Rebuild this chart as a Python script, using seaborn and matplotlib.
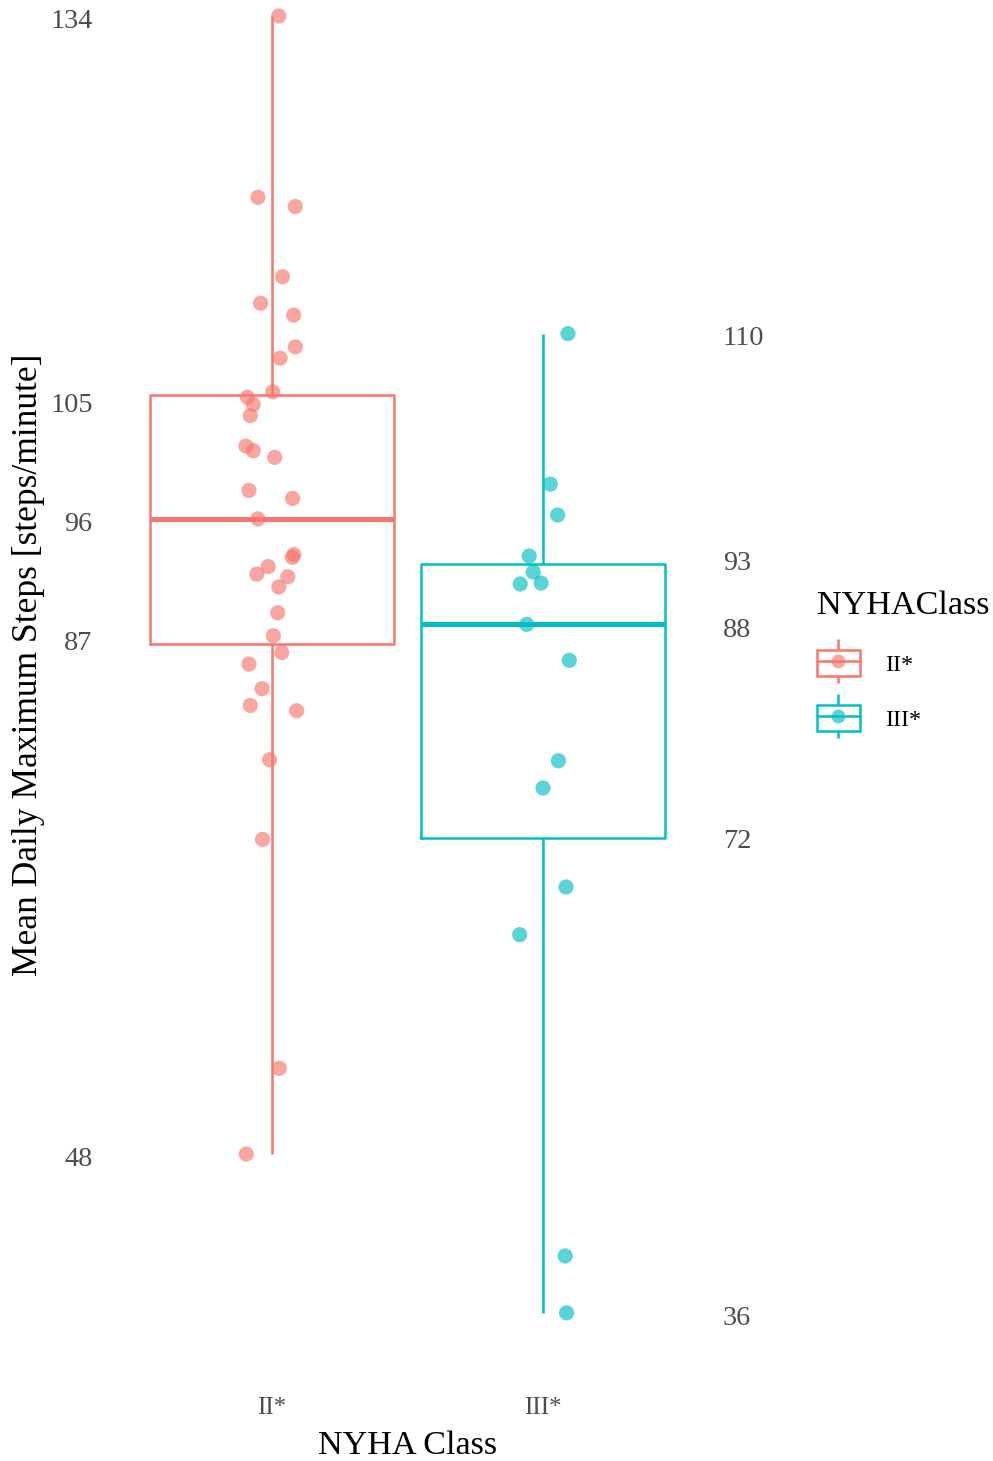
import matplotlib
matplotlib.use("Agg")
import matplotlib.pyplot as plt
import matplotlib.colors as mcolors
import numpy as np
import pandas as pd
import seaborn as sns
from matplotlib.lines import Line2D
from matplotlib.patches import Rectangle

classes = ["II*", "III*"]
colors = ["#F8766D", "#00BFC4"]

# mean daily maximum steps per patient
steps_ii = [134.0, 120.3, 119.6, 114.3, 112.3, 111.4, 109.0, 108.15, 105.6, 105.2,
            104.65, 103.8, 101.5, 101.15, 100.65, 98.15, 97.55, 96.0, 93.3, 93.1,
            92.4, 91.83, 91.63, 90.85, 88.9, 87.17, 85.9, 85.03, 83.17, 81.9,
            81.5, 77.8, 71.78, 54.48, 48.0]
# horizontal jitter of each point (category units)
jitter_ii = [0.025, -0.052, 0.086, 0.039, -0.042, 0.080, 0.086, 0.030, 0.003, -0.091,
             -0.069, -0.080, -0.096, -0.069, 0.010, -0.085, 0.076, -0.052, 0.081, 0.075,
             -0.014, -0.056, 0.058, 0.025, 0.021, 0.005, 0.036, -0.085, -0.037, -0.080,
             0.091, -0.009, -0.035, 0.027, -0.095]

steps_iii = [110.0, 98.63, 96.29, 93.19, 91.98, 91.08, 91.15, 88.03, 85.31, 77.72,
             75.66, 68.18, 64.58, 40.3, 36.0]
jitter_iii = [0.092, 0.027, 0.054, -0.051, -0.036, -0.084, -0.007, -0.060, 0.097, 0.057,
              0.000, 0.085, -0.086, 0.082, 0.087]

df = pd.DataFrame({
    "NYHAClass": ["II*"] * len(steps_ii) + ["III*"] * len(steps_iii),
    "steps": steps_ii + steps_iii,
    "jitter": jitter_ii + jitter_iii,
})
df["pos"] = df["NYHAClass"].map({c: i for i, c in enumerate(classes)}) + df["jitter"]

sns.set_style("white")
plt.rcParams["font.family"] = ["Liberation Serif", "DejaVu Serif"]

fig = plt.figure(figsize=(9.93, 14.61), dpi=100)
ax = fig.add_axes([109.4 / 993, 83.3 / 1461, 596.2 / 993, 1426.5 / 1461])

sns.boxplot(data=df, x="NYHAClass", y="steps", hue="NYHAClass", order=classes,
            hue_order=classes, palette=colors, fill=False, width=0.9, whis=(0, 100),
            showcaps=False, showfliers=False, linewidth=1.8,
            medianprops={"linewidth": 3.6}, legend=False, ax=ax)
sns.scatterplot(x=df["pos"], y=df["steps"], hue=df["NYHAClass"],
                palette=dict(zip(classes, colors)), s=120, alpha=0.65,
                edgecolor="none", legend=False, ax=ax, zorder=3)

lo, hi = df["steps"].min(), df["steps"].max()
pad = 0.05 * (hi - lo)
ax.set_xlim(-0.6, 1.6)
ax.set_ylim(lo - pad, hi + pad)

# five-number labels beside each box
for i, c in enumerate(classes):
    vals = df.loc[df["NYHAClass"] == c, "steps"].to_numpy()
    stats = np.percentile(vals, [0, 25, 50, 75, 100])
    for v in stats:
        lab = int(round(v))
        if i == 0:
            ax.annotate(str(lab), xy=(-0.662, lab), xytext=(0, -3.8),
                        textcoords="offset points", ha="right", va="center",
                        fontsize=20.3, color="#4D4D4D", annotation_clip=False)
        else:
            ax.annotate(str(lab), xy=(1.664, lab), xytext=(0, -3.8),
                        textcoords="offset points", ha="left", va="center",
                        fontsize=20.3, color="#4D4D4D", annotation_clip=False)

for s in ax.spines.values():
    s.set_visible(False)
ax.set_yticks([])
ax.tick_params(axis="x", length=0, pad=14, labelsize=17.8, labelcolor="#4D4D4D")
ax.set_xlabel("NYHA Class", fontsize=24.6, color="black")
ax.set_ylabel("Mean Daily Maximum Steps [steps/minute]", fontsize=25.6, color="black")
ax.xaxis.set_label_coords(0.5, -0.037)
ax.yaxis.set_label_coords(-0.108, 0.5)

handles = []
for c in colors:
    whisk = Line2D([], [], linestyle="none", marker="|", markersize=31,
                   markeredgewidth=1.8, color=c)
    rect = Rectangle((0, 0), 1, 1, facecolor="white", edgecolor=c, linewidth=1.8)
    med = Line2D([], [], color=c, lw=1.8, marker="o", markersize=10,
                 markerfacecolor=mcolors.to_rgba(c, 0.65), markeredgecolor="none")
    handles.append((whisk, rect, med))
leg = fig.legend(handles, classes, title="NYHAClass", loc="upper left",
                 bbox_to_anchor=(817 / 993, 1 - 591 / 1461), frameon=False,
                 fontsize=17.5, title_fontsize=24.6, alignment="left",
                 borderpad=0, borderaxespad=0, handlelength=1.75, handleheight=1.3,
                 handletextpad=1.05, labelspacing=1.17)
leg.get_title().set_color("black")
for t in leg.get_texts():
    t.set_color("black")

fig.savefig("out.png", dpi=100)
